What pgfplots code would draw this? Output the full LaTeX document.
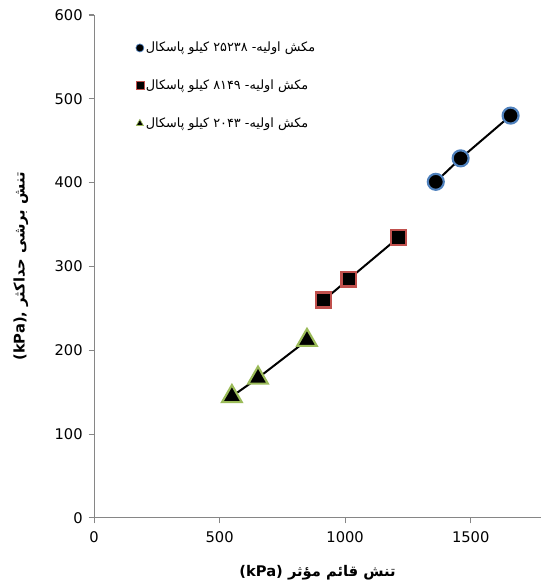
\documentclass[border=0pt]{standalone}
\usepackage{fontspec}
\usepackage{pgfplots}
\pgfplotsset{compat=1.18}
\setmainfont{DejaVu Sans}
\newfontfamily\arabicfont[Script=Arabic]{DejaVu Sans}
\TeXXeTstate=1

\definecolor{axisgray}{HTML}{868686}
\definecolor{mblue}{HTML}{4F81BD}
\definecolor{mred}{HTML}{C0504D}
\definecolor{mgreen}{HTML}{9BBB59}

% effective normal stress (kPa) vs. maximum shear stress (kPa)
\pgfplotstableread{
x y
1361 401
1460 429
1659 480
}\suctionA
\pgfplotstableread{
x y
915 260
1015 285
1214 335
}\suctionB
\pgfplotstableread{
x y
549 145
653 167
848 212
}\suctionC

\begin{document}
\begin{tikzpicture}
\begin{axis}[
  scale only axis,
  width=335pt, height=377pt,
  xmin=0, xmax=1780, ymin=0, ymax=600,
  xtick={0,500,1000,1500},
  ytick={0,100,...,600},
  axis x line*=bottom, axis y line*=left,
  axis line style={axisgray, line width=0.8pt},
  major tick style={axisgray, line width=0.8pt},
  tick align=outside, major tick length=4pt,
  tick label style={font=\fontsize{11}{13}\selectfont, black},
  /pgf/number format/assume math mode=true,
  /pgf/number format/1000 sep={},
  xticklabel style={yshift=-3pt},
  yticklabel style={xshift=-1pt},
  xlabel={\bfseries\arabicfont\fontsize{11}{13}\selectfont\beginR تنش قائم مؤثر \beginL{\normalfont\bfseries(kPa)}\endL\endR},
  ylabel={\bfseries\arabicfont\fontsize{11}{13}\selectfont\beginR تنش برشی حداکثر \beginL{\normalfont\bfseries(kPa),}\endL\endR},
  xlabel style={yshift=-10pt},
  ylabel style={yshift=13pt},
  legend style={draw=none, fill=none, at={(rel axis cs:0.093,0.952)}, anchor=north west,
    row sep=15.5pt, inner sep=0pt, font=\arabicfont\fontsize{9.6}{11}\selectfont,
    nodes={inner xsep=1.5pt}},
  legend cell align=left,
  legend image code/.code={\draw[#1, mark size=3pt, every mark/.append style={line width=0.5pt}] plot coordinates {(0cm,0cm)};},
  clip=false,
]
% fitted lines through each group
\addplot[black, line width=1.5pt, forget plot] table[x=x,y=y] {\suctionA};
\addplot[black, line width=1.5pt, forget plot] table[x=x,y=y] {\suctionB};
\addplot[black, line width=1.5pt, forget plot] table[x=x,y=y] {\suctionC};
% measured points
\addplot[only marks, mark=*, mark size=6pt,
  mark options={draw=mblue, fill=black, line width=1.6pt}] table[x=x,y=y] {\suctionA};
\addlegendentry{\beginR مکش اولیه- ۲۵۲۳۸ کیلو پاسکال\endR}
\addplot[only marks, mark=square*, mark size=5.6pt,
  mark options={draw=mred, fill=black, line width=1.6pt}] table[x=x,y=y] {\suctionB};
\addlegendentry{\beginR مکش اولیه- ۸۱۴۹ کیلو پاسکال\endR}
\addplot[only marks, mark=triangle*, mark size=8.5pt,
  mark options={draw=mgreen, fill=black, line width=1.6pt}] table[x=x,y=y] {\suctionC};
\addlegendentry{\beginR مکش اولیه- ۲۰۴۳ کیلو پاسکال\endR}
\coordinate (sw) at (rel axis cs:0,0);
\coordinate (ne) at (rel axis cs:1,1);
\end{axis}
\pgfresetboundingbox
\path ([shift={(-70.5pt,-51.75pt)}]sw) rectangle ([shift={(0pt,11.25pt)}]ne);
\end{tikzpicture}
\end{document}
